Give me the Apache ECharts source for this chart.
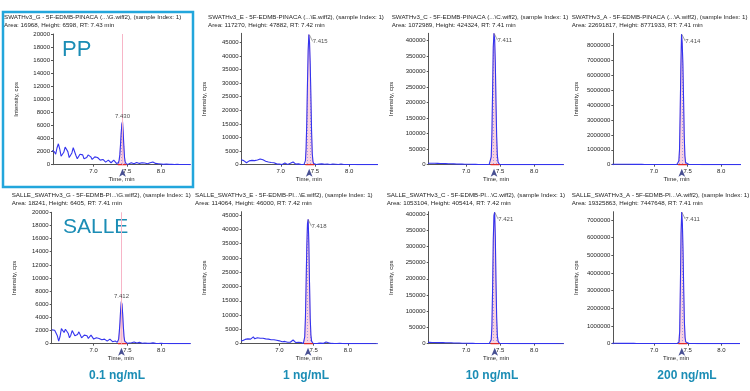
<!DOCTYPE html>
<html><head><meta charset="utf-8">
<script src="https://cdn.jsdelivr.net/npm/echarts@6/dist/echarts.min.js"></script>
<style>html,body{margin:0;padding:0;background:#fff}#c{width:750px;height:391px}</style>
</head><body><div id="c"></div>
<script>
// ---------- DATA ----------
const time = [
 6.38,6.40,6.42,6.44,6.46,6.48,6.50,6.52,6.54,6.56,6.58,6.60,6.62,6.64,6.66,6.68,6.70,6.72,6.74,6.76,
 6.78,6.80,6.82,6.84,6.86,6.88,6.90,6.92,6.94,6.96,6.98,7.00,7.02,7.04,7.06,7.08,7.10,7.12,7.14,7.16,
 7.18,7.20,7.22,7.24,7.26,7.28,7.30,7.32,7.34,
 7.35,7.36,7.37,7.38,7.39,7.40,7.41,7.42,7.43,7.44,7.45,7.46,7.47,7.48,7.49,7.50,
 7.52,7.56,7.60,7.64,7.68,7.72,7.76,7.80,7.84,7.88,7.92,7.96,8.00,8.04,8.08,8.12,8.16,8.20,8.24,8.28,8.32,8.36,8.40,8.44
];
const ppG = [
 2200,2400,2000,1600,2600,3200,2400,1300,1000,1900,2700,2900,2000,1100,1000,1800,2600,2400,1400,900,
 1200,1600,1800,1500,900,800,1100,1500,1600,1200,800,900,1200,1400,1100,800,700,900,800,500,
 400,600,700,400,300,500,700,400,200,
 150,100,300,700,1500,3000,4800,6200,6598,5000,2800,1100,400,150,60,100,
 100,300,150,350,200,300,250,150,300,400,200,150,100,50,100,50,80,30,50,20,40,20,30,10
];
const ppE = [
 1800,1900,1800,1900,1500,900,700,1000,1400,1700,1600,1200,1500,1900,1700,1800,2100,2200,1800,1500,
 1300,1200,1000,900,800,600,700,500,300,400,200,300,100,400,600,300,100,700,500,200,
 1000,400,200,100,300,200,100,200,100,
 300,1500,6000,16000,30000,42000,47882,45000,37000,25000,12000,4000,1200,400,200,100,
 100,200,300,150,250,100,200,150,100,250,100,80,100,50,80,40,60,30,50,20,30,20,20,10
];
const ppC = [
 4000,4200,4500,4300,4800,5000,4600,4200,4500,4800,4400,4000,3800,4100,3900,3500,3600,3300,3000,3200,
 2900,2600,2800,2500,2200,2400,2000,1800,2100,1700,1500,1600,1300,1200,1400,1100,900,1000,1200,800,
 700,900,600,800,700,500,600,700,900,
 1500,5000,25000,100000,240000,380000,424324,405000,330000,200000,90000,30000,9000,3000,1200,600,
 500,400,600,400,300,500,400,300,400,300,200,300,200,250,200,150,200,150,100,150,100,120,100,80
];
const ppA = [
 25000,30000,28000,26000,32000,30000,27000,25000,28000,30000,26000,24000,27000,25000,22000,24000,23000,21000,20000,22000,
 21000,19000,20000,18000,17000,19000,18000,16000,17000,15000,16000,14000,15000,13000,14000,12000,13000,12000,11000,12000,
 10000,11000,10000,9000,10000,9000,10000,12000,15000,
 30000,80000,250000,1000000,3500000,6500000,8771933,8200000,6800000,4500000,2000000,600000,150000,40000,20000,15000,
 12000,10000,11000,9000,10000,8000,9000,8000,7000,8000,7000,6000,7000,6000,5000,6000,5000,5000,4000,5000,4000,4000,3000,3000
];
const salleG = [
 2100,2150,2050,2100,1200,400,1100,2300,2000,1700,2200,2400,1600,900,1300,2000,1900,1200,900,1400,
 1800,1500,900,800,1300,1600,1200,800,900,1300,1200,700,600,900,1100,800,500,600,800,700,
 500,400,600,700,400,300,500,400,300,
 200,300,700,1800,3300,5200,6405,6000,4500,2600,1100,400,150,100,80,60,
 50,150,250,100,200,80,100,50,80,120,50,30,60,20,30,10,20,10,20,10,10,5,10,5
];
const salleE = [
 1500,1600,1700,1500,1000,900,1500,2100,1700,1300,1600,2200,2400,1700,1500,2100,2300,1900,1700,1900,
 1800,1700,1500,1600,1500,1400,1300,1400,1300,1200,1300,1000,800,700,900,800,600,500,400,500,
 900,1300,800,400,300,500,700,400,200,
 100,400,2500,9000,21000,34000,42000,43500,35000,21000,9000,3000,900,300,150,60,
 50,100,200,100,600,300,100,50,80,100,50,30,40,20,30,10,20,10,10,10,10,5,5,5
];
const salleC = [
 3500,3800,4000,3900,4200,4000,3800,3600,3900,3700,3400,3600,3300,3100,3400,3200,2900,3000,2700,2500,
 2800,2400,2200,2500,2100,1900,2000,1800,1600,1700,1400,1300,1500,1200,1100,1000,1200,900,800,1000,
 700,800,600,700,500,600,500,700,800,
 1000,3000,12000,55000,170000,320000,395000,405414,330000,190000,80000,25000,8000,2500,1000,500,
 500,400,500,300,400,300,300,200,300,200,200,150,200,150,100,150,100,100,80,100,80,60,50,50
];
const salleA = [
 20000,24000,22000,21000,25000,23000,21000,20000,22000,21000,19000,20000,18000,19000,17000,18000,16000,17000,15000,16000,
 15000,14000,15000,13000,14000,12000,13000,12000,11000,12000,11000,10000,11000,10000,9000,10000,9000,8000,9000,8000,
 8000,7000,8000,7000,8000,7000,8000,10000,12000,
 15000,30000,80000,700000,3200000,6200000,7447648,6800000,5200000,3000000,1200000,350000,90000,30000,15000,10000,
 9000,8000,8000,7000,7000,6000,6000,5000,6000,5000,5000,4000,4000,4000,3000,3000,3000,2000,3000,2000,2000,2000,1000,1000
];
const seriesData = [ppG, ppE, ppC, ppA, salleG, salleE, salleC, salleA];
const rtValues = [7.430, 7.415, 7.411, 7.414, 7.412, 7.418, 7.421, 7.411];
const rtLabels = ['7.430','7.415','7.411','7.414','7.412','7.418','7.421','7.411'];
const integStart = [7.36, 7.36, 7.36, 7.36, 7.36, 7.36, 7.36, 7.36];
const integEnd   = [7.49, 7.49, 7.49, 7.49, 7.49, 7.49, 7.49, 7.49];
const titleLine1 = [
 'SWATHv3_G - 5F-EDMB-PINACA (...\\G.wiff2), (sample Index: 1)',
 'SWATHv3_E - 5F-EDMB-PINACA (...\\E.wiff2), (sample Index: 1)',
 'SWATHv3_C - 5F-EDMB-PINACA (...\\C.wiff2), (sample Index: 1)',
 'SWATHv3_A - 5F-EDMB-PINACA (...\\A.wiff2), (sample Index: 1)',
 'SALLE_SWATHv3_G - 5F-EDMB-PI...\\G.wiff2), (sample Index: 1)',
 'SALLE_SWATHv3_E - 5F-EDMB-PI...\\E.wiff2), (sample Index: 1)',
 'SALLE_SWATHv3_C - 5F-EDMB-PI...\\C.wiff2), (sample Index: 1)',
 'SALLE_SWATHv3_A - 5F-EDMB-PI...\\A.wiff2), (sample Index: 1)'
];
const titleLine2 = [
 'Area: 16968, Height: 6598, RT: 7.43 min',
 'Area: 117270, Height: 47882, RT: 7.42 min',
 'Area: 1072989, Height: 424324, RT: 7.41 min',
 'Area: 22691817, Height: 8771933, RT: 7.41 min',
 'Area: 18241, Height: 6405, RT: 7.41 min',
 'Area: 114064, Height: 46000, RT: 7.42 min',
 'Area: 1053104, Height: 405414, RT: 7.42 min',
 'Area: 19325863, Height: 7447648, RT: 7.41 min'
];
const xTicks = [7.0, 7.5, 8.0];
const yTicks20k = [0,2000,4000,6000,8000,10000,12000,14000,16000,18000,20000];
const yTicks45k = [0,5000,10000,15000,20000,25000,30000,35000,40000,45000];
const yTicks400k = [0,50000,100000,150000,200000,250000,300000,350000,400000];
const yTicks8M = [0,1000000,2000000,3000000,4000000,5000000,6000000,7000000,8000000];
const yTicks7M = [0,1000000,2000000,3000000,4000000,5000000,6000000,7000000];
const groupLabels = ['PP', 'SALLE'];
const concLabels = ['0.1 ng/mL', '1 ng/mL', '10 ng/mL', '200 ng/mL'];

// ---------- LAYOUT ----------
const panels = [
 {l:53,   t:34,    w:137,   h:130.7, xMin:6.40,  xMax:8.43, yMax:20000,   yt:yTicks20k,  tx:4,     ty:13,  lab:'top'},
 {l:241.7,t:33.3,  w:134.3, h:131.4, xMin:6.43,  xMax:8.39, yMax:48300,   yt:yTicks45k,  tx:208,   ty:13,  lab:'right'},
 {l:428.7,t:33.3,  w:134.6, h:131.4, xMin:6.45,  xMax:8.43, yMax:424000,  yt:yTicks400k, tx:391.7, ty:13,  lab:'right'},
 {l:613.3,t:33.3,  w:126.7, h:131.4, xMin:6.395, xMax:8.28, yMax:8830000, yt:yTicks8M,   tx:571.7, ty:13,  lab:'right'},
 {l:51.7, t:212.3, w:138.3, h:131.4, xMin:6.376, xMax:8.43, yMax:20000,   yt:yTicks20k,  tx:11.7,  ty:191, lab:'top'},
 {l:241.7,t:211.7, w:134.3, h:132,   xMin:6.45,  xMax:8.41, yMax:46150,   yt:yTicks45k,  tx:195,   ty:191, lab:'right'},
 {l:428.7,t:211.7, w:134.6, h:132,   xMin:6.45,  xMax:8.43, yMax:407000,  yt:yTicks400k, tx:386.7, ty:191, lab:'right'},
 {l:613.3,t:211.7, w:125.7, h:132,   xMin:6.395, xMax:8.26, yMax:7470000, yt:yTicks7M,   tx:571.7, ty:191, lab:'right'}
];

const FF = 'Liberation Sans, Arial, sans-serif';
const TXT = '#1e1e1e';
const AX = '#555';
const TEAL = '#1b8db5';

// dotted pink pattern for integrated peak area
const pc = document.createElement('canvas');
pc.width = 3; pc.height = 3;
const g = pc.getContext('2d');
g.fillStyle = 'rgba(248,205,220,0.9)'; g.fillRect(0,0,3,3);
g.fillStyle = 'rgba(130,130,235,0.7)'; g.fillRect(1,1,1,1);

const grid = [], xAxis = [], yAxis = [], series = [], graphic = [];

panels.forEach((p, i) => {
  grid.push({left:p.l, top:p.t, width:p.w, height:p.h});
  xAxis.push({
    type:'value', gridIndex:i, min:p.xMin, max:p.xMax,
    axisLine:{show:true, onZero:false, lineStyle:{color:AX, width:1}},
    axisTick:{show:true, length:2, customValues:xTicks, lineStyle:{color:AX}},
    axisLabel:{customValues:xTicks, formatter:v=>v.toFixed(1), fontSize:6, color:TXT, margin:4, fontFamily:FF},
    splitLine:{show:false},
    name:'Time, min', nameLocation:'middle', nameGap:12,
    nameTextStyle:{fontSize:6, color:TXT, fontFamily:FF}
  });
  yAxis.push({
    type:'value', gridIndex:i, min:0, max:p.yMax,
    axisLine:{show:true, lineStyle:{color:AX, width:1}},
    axisTick:{show:true, length:2, customValues:p.yt, lineStyle:{color:AX}},
    axisLabel:{customValues:p.yt, formatter:v=>String(v), fontSize:6, color:TXT, margin:3, fontFamily:FF},
    splitLine:{show:false},
    name:'Intensity, cps', nameLocation:'middle', nameGap:34, nameRotate:90,
    nameTextStyle:{fontSize:6, color:TXT, fontFamily:FF}
  });
  const vals = seriesData[i];
  const pairs = vals.map((v, k) => [time[k], v]);
  const peakPairs = pairs.filter(d => d[0] >= integStart[i] - 1e-9 && d[0] <= integEnd[i] + 1e-9);
  let apex = 0; vals.forEach(v => { if (v > apex) apex = v; });

  series.push({
    type:'line', xAxisIndex:i, yAxisIndex:i, data:peakPairs, showSymbol:false, silent:true, z:1,
    lineStyle:{color:'#f4a8c2', width:0.6},
    areaStyle:{color:{image:pc, repeat:'repeat'}, opacity:1}
  });
  const main = {
    type:'line', xAxisIndex:i, yAxisIndex:i, data:pairs, showSymbol:false, silent:true, z:3,
    lineStyle:{color:'#3434ee', width:1.1}
  };
  if (p.lab === 'top') {
    main.markLine = {silent:true, symbol:'none', label:{show:false},
      lineStyle:{color:'#f7b5c7', width:1, type:'solid'}, data:[{xAxis:rtValues[i]}]};
  }
  series.push(main);
  series.push({
    type:'line', xAxisIndex:i, yAxisIndex:i, data:[[integStart[i],0],[integEnd[i],0]],
    showSymbol:false, silent:true, z:4, lineStyle:{color:'#e02a2a', width:1.4}
  });
  series.push({
    type:'scatter', xAxisIndex:i, yAxisIndex:i, data:[[rtValues[i],0]], clip:false, silent:true, z:6,
    symbol:'arrow', symbolSize:[5,8], symbolOffset:[0,4], itemStyle:{color:'#1a2478'}
  });
  const lbl = {
    type:'scatter', xAxisIndex:i, yAxisIndex:i, data:[[rtValues[i], apex]], clip:false, silent:true, z:7,
    symbolSize:1, itemStyle:{color:'rgba(0,0,0,0)'},
    label:{show:true, formatter:rtLabels[i], fontSize:6, color:TXT, fontFamily:FF}
  };
  if (p.lab === 'top') {
    lbl.label.position = 'top'; lbl.label.distance = 2;
  } else {
    lbl.label.position = 'right'; lbl.label.distance = 1;
    lbl.labelLayout = {dx:2, dy:7};
    lbl.labelLine = {show:true, length2:0, lineStyle:{color:'#666', width:0.6}};
  }
  series.push(lbl);

  graphic.push({type:'text', x:p.tx, y:p.ty, silent:true,
    style:{text:titleLine1[i] + '\n' + titleLine2[i], fontSize:6.2, lineHeight:8, fontFamily:FF, fill:TXT, align:'left', verticalAlign:'top'}});
});

graphic.push({type:'rect', shape:{x:3, y:12, width:190, height:175}, silent:true,
  style:{fill:'none', stroke:'#22a6dc', lineWidth:2.5}});
graphic.push({type:'text', x:62, y:49.5, silent:true,
  style:{text:groupLabels[0], fontSize:22, fontFamily:FF, fill:TEAL, align:'left', verticalAlign:'middle'}});
graphic.push({type:'text', x:63, y:227, silent:true,
  style:{text:groupLabels[1], fontSize:21, fontFamily:FF, fill:TEAL, align:'left', verticalAlign:'middle'}});
const concX = [117, 306, 492, 687];
concLabels.forEach((s, k) => {
  graphic.push({type:'text', x:concX[k], y:376, silent:true,
    style:{text:s, fontSize:12, fontWeight:'bold', fontFamily:FF, fill:TEAL, align:'center', verticalAlign:'middle'}});
});

const chart = echarts.init(document.getElementById('c'), null, {renderer:'canvas'});
chart.setOption({animation:false, backgroundColor:'#fff', grid, xAxis, yAxis, series, graphic});
</script></body></html>
